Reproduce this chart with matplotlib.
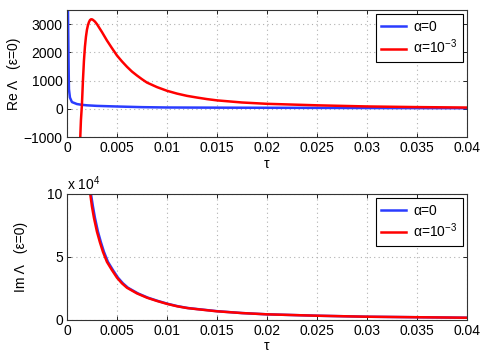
import numpy as np
import matplotlib
matplotlib.use('Agg')
import matplotlib.pyplot as plt

plt.rcParams['font.family'] = ['Liberation Sans', 'DejaVu Sans']
plt.rcParams['mathtext.fontset'] = 'custom'
plt.rcParams['mathtext.rm'] = 'Liberation Sans'

BLUE = '#2a3cff'
RED = '#ff0000'

# Re Lambda, alpha = 0
re_tau_a0 = [0.0001, 0.00017, 0.0002, 0.0003, 0.0005, 0.001, 0.0015, 0.002, 0.003,
             0.005, 0.0075, 0.01, 0.015, 0.02, 0.03, 0.04]
re_val_a0 = [3600, 1500, 700, 400, 240, 170, 142, 125, 105,
             83, 60, 48, 42, 38, 30, 22]

# Re Lambda, alpha = 1e-3
re_tau_a3 = [0.0013, 0.0014, 0.0015, 0.0016, 0.0017, 0.0018, 0.0019, 0.002, 0.0021,
             0.0022, 0.0023, 0.0024, 0.0025, 0.0026, 0.0028, 0.003, 0.0035, 0.004,
             0.0045, 0.005, 0.0055, 0.006, 0.0065, 0.007, 0.0075, 0.008, 0.009,
             0.01, 0.011, 0.012, 0.013, 0.014, 0.015, 0.0175, 0.02, 0.025, 0.03,
             0.035, 0.04]
re_val_a3 = [-1300, -400, 150, 1000, 1700, 2200, 2550, 2800, 2960,
             3070, 3140, 3170, 3170, 3150, 3090, 3000, 2720, 2420,
             2150, 1890, 1680, 1490, 1320, 1180, 1050, 930, 770,
             640, 540, 460, 400, 345, 300, 225, 178, 125, 85,
             62, 46]

# Im Lambda (x 1e4)
im_tau_a0 = [0.0023, 0.0024, 0.0026, 0.0028, 0.0031, 0.0034, 0.0037, 0.0041, 0.0046,
             0.0051, 0.0056, 0.0061, 0.0071, 0.0081, 0.0091, 0.0101, 0.0111, 0.0121,
             0.013, 0.015, 0.0175, 0.02, 0.025, 0.03, 0.035, 0.04]
im_val_a0 = [11.0, 10.0, 9.0, 8.1, 7.0, 6.15, 5.4, 4.6, 3.95,
             3.35, 2.9, 2.55, 2.1, 1.76, 1.5, 1.27, 1.08, 0.94,
             0.86, 0.69, 0.54, 0.44, 0.33, 0.25, 0.21, 0.17]

im_tau_a3 = [0.0022, 0.00233, 0.0025, 0.0027, 0.003, 0.0033, 0.0036, 0.004, 0.0045,
             0.005, 0.0055, 0.006, 0.007, 0.008, 0.009, 0.01, 0.011, 0.012,
             0.013, 0.015, 0.0175, 0.02, 0.025, 0.03, 0.035, 0.04]
im_val_a3 = [11.0, 10.0, 9.0, 8.1, 7.0, 6.15, 5.4, 4.6, 3.95,
             3.35, 2.9, 2.55, 2.1, 1.76, 1.5, 1.27, 1.08, 0.94,
             0.85, 0.68, 0.54, 0.44, 0.33, 0.25, 0.21, 0.17]

xticks = [0, 0.005, 0.01, 0.015, 0.02, 0.025, 0.03, 0.035, 0.04]
xticklabels = ['0', '0.005', '0.01', '0.015', '0.02', '0.025', '0.03', '0.035', '0.04']

fig = plt.figure(figsize=(4.85, 3.57), dpi=100)
ax = fig.add_axes([0.138, 0.616, 0.825, 0.356])
bx = fig.add_axes([0.138, 0.104, 0.825, 0.353])


def style(a):
    a.set_xlim(0, 0.04)
    a.set_xticks(xticks)
    a.set_xticklabels(xticklabels)
    a.grid(True, linestyle=(0, (1, 3)), color='#b0b0b0', linewidth=0.8)
    a.tick_params(direction='in', top=True, right=True, labelsize=10,
                  length=3, width=0.6, pad=3)
    for s in a.spines.values():
        s.set_linewidth(0.8)
        s.set_color('#333333')
    a.set_xlabel('τ', fontsize=10, labelpad=1)


def legend(a):
    leg = a.legend(loc='upper right', fontsize=10, fancybox=False, edgecolor='black',
                   framealpha=1, borderpad=0.4, handlelength=1.8, handletextpad=0.5,
                   labelspacing=0.3, borderaxespad=0.3)
    leg.get_frame().set_linewidth(0.8)


ax.plot(re_tau_a0, re_val_a0, color=BLUE, lw=1.8, label='α=0')
ax.plot(re_tau_a3, re_val_a3, color=RED, lw=1.8, label='α=10$^{-3}$')
style(ax)
ax.set_ylim(-1000, 3500)
ax.set_yticks([-1000, 0, 1000, 2000, 3000])
ax.set_yticklabels(['\u22121000', '0', '1000', '2000', '3000'])
ax.set_ylabel('Re Λ   (ε=0)', fontsize=10, labelpad=2)
legend(ax)

bx.plot(im_tau_a0, im_val_a0, color=BLUE, lw=1.8, label='α=0')
bx.plot(im_tau_a3, im_val_a3, color=RED, lw=1.8, label='α=10$^{-3}$')
style(bx)
bx.set_ylim(0, 10)
bx.set_yticks([0, 5, 10])
bx.set_ylabel('Im Λ   (ε=0)', fontsize=10, labelpad=14)
bx.text(0.0, 1.005, 'x 10$^4$', transform=bx.transAxes, fontsize=10,
        ha='left', va='bottom')
legend(bx)

fig.savefig('out.png', dpi=100)
